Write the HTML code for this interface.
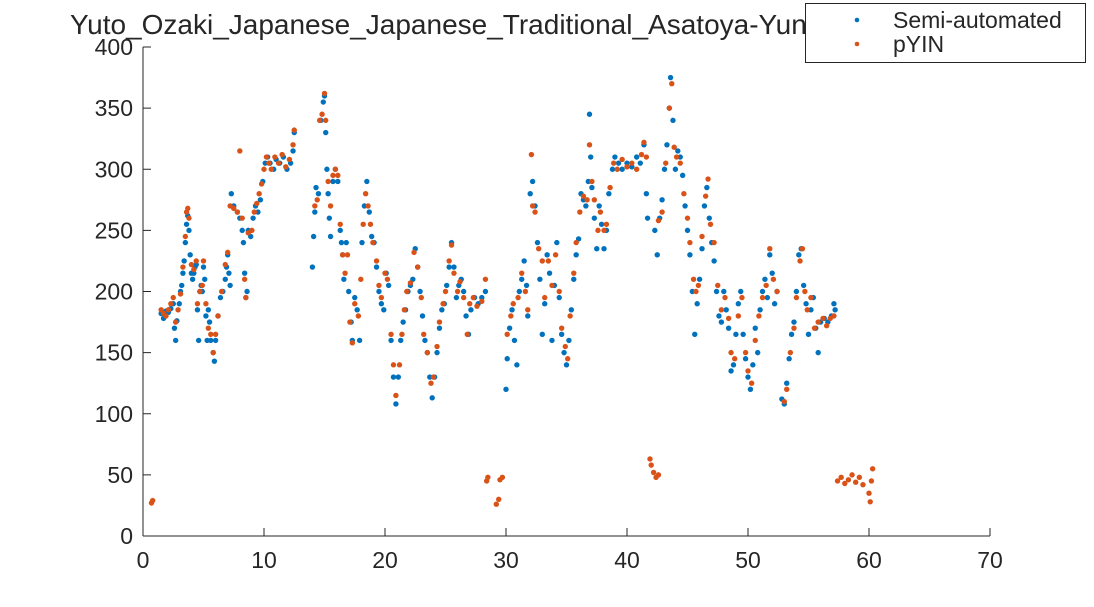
<!DOCTYPE html>
<html><head><meta charset="utf-8"><style>
html,body{margin:0;padding:0;background:#fff;}
svg text{font-family:"Liberation Sans","Noto Sans CJK JP",sans-serif;fill:#262626;}
</style></head><body>
<svg id="chart" width="1094" height="602" viewBox="0 0 1094 602" xmlns="http://www.w3.org/2000/svg">
<rect width="1094" height="602" fill="#fff"/>
<text x="70" y="34" font-size="28">Yuto_Ozaki_Japanese_Japanese_Traditional_Asatoya-Yunta_pitch</text>
<g id="axes"></g>
<g id="marks"></g>
<g>
<rect x="805.5" y="3.5" width="280" height="59" fill="#fff" stroke="#262626" stroke-width="1"/>
<circle cx="857" cy="20" r="2.3" fill="#0072BD"/>
<text x="893" y="28" font-size="23">Semi-automated</text>
<circle cx="857" cy="44" r="2.3" fill="#D95319"/>
<text x="893" y="52" font-size="23">pYIN</text>
</g>
</svg>
<script>
const xTicks=[0,10,20,30,40,50,60,70];
const yTicks=[0,50,100,150,200,250,300,350,400];
const semiT=[1.5,1.7,1.9,2.1,2.3,2.5,2.6,2.7,2.8,3.0,3.1,3.2,3.3,3.4,3.5,3.6,3.7,3.8,3.9,4.0,4.1,4.2,4.3,4.4,4.5,4.6,4.7,4.8,4.9,5.0,5.1,5.2,5.3,5.4,5.5,5.6,5.8,5.9,6.0,6.2,6.4,6.6,6.8,6.9,7.0,7.1,7.2,7.3,7.5,7.8,8.0,8.2,8.3,8.4,8.5,8.6,8.7,8.9,9.1,9.3,9.5,9.7,9.9,10.1,10.3,10.5,10.8,11.0,11.3,11.6,11.9,12.2,12.4,12.5,
14.0,14.1,14.2,14.3,14.5,14.7,14.9,15.0,15.1,15.2,15.3,15.4,15.5,15.7,15.9,16.1,16.3,16.4,16.5,16.6,16.8,17.0,17.2,17.3,17.5,17.7,17.9,18.1,18.3,18.5,18.7,18.9,19.1,19.3,19.5,19.7,19.9,20.1,20.3,20.5,20.7,20.9,21.1,21.3,21.5,21.7,21.9,22.1,22.3,22.5,22.7,22.9,23.1,23.3,23.5,23.7,23.9,24.1,24.3,24.5,24.7,24.9,25.1,25.3,25.5,25.7,25.9,26.1,26.3,26.5,26.7,26.9,27.1,27.4,27.7,28.0,28.3,
30.0,30.1,30.3,30.5,30.7,30.9,31.1,31.3,31.5,31.7,31.8,32.0,32.2,32.4,32.6,32.8,33.0,33.2,33.4,33.6,33.8,34.0,34.2,34.4,34.6,34.8,35.0,35.2,35.4,35.6,35.8,36.0,36.2,36.4,36.6,36.8,36.9,37.0,37.1,37.3,37.5,37.7,37.9,38.1,38.3,38.5,38.8,39.0,39.3,39.6,40.0,40.4,40.8,41.1,41.4,41.6,41.7,42.3,42.5,42.7,42.9,43.1,43.3,43.5,43.6,43.8,44.0,44.2,44.4,44.6,44.8,45.0,45.2,45.4,45.6,45.8,46.0,46.2,46.4,46.6,46.8,47.0,47.2,47.4,47.6,47.8,48.0,48.2,48.4,48.6,48.8,49.0,49.2,49.4,49.6,49.8,50.0,50.2,50.4,50.6,50.8,51.0,51.2,51.4,51.6,51.8,52.0,52.2,52.4,52.8,53.0,53.2,53.4,53.6,53.8,54.0,54.2,54.4,54.6,54.8,55.0,55.2,55.4,55.6,55.8,56.0,56.3,56.6,56.9,57.1,57.2];
const semiF=[182,178,184,183,186,190,170,160,176,190,200,205,215,225,240,255,262,250,230,215,210,215,220,222,185,160,200,205,200,220,210,180,160,185,175,160,150,143,160,180,195,200,210,220,230,215,205,280,270,265,260,250,240,215,195,200,250,245,260,270,265,275,290,305,310,305,300,308,305,310,300,305,315,330,
220,245,265,285,280,340,355,360,330,300,280,260,245,290,300,290,250,240,230,210,240,200,175,160,195,185,160,240,270,290,265,245,240,220,200,190,185,215,205,160,130,108,130,160,175,185,200,205,210,235,220,200,180,160,150,130,113,130,150,170,185,190,205,220,240,220,195,205,210,200,180,165,185,195,190,195,200,
120,145,170,185,160,140,200,210,225,205,180,280,290,270,240,210,165,190,230,215,160,205,240,195,165,150,140,160,185,210,230,243,280,275,270,290,345,310,285,260,235,270,255,235,250,280,300,310,305,300,305,302,310,305,320,280,260,250,230,260,275,300,320,350,375,340,300,315,310,295,270,250,230,200,165,190,210,235,270,285,260,240,225,200,180,175,200,185,170,135,140,165,190,200,165,145,130,120,140,170,150,185,200,210,195,230,215,190,200,112,108,125,145,165,175,200,230,235,205,190,165,185,195,170,150,175,178,175,180,190,185];
const pyinT=[0.7,0.8,1.5,1.7,1.9,2.1,2.3,2.5,2.7,2.9,3.1,3.3,3.5,3.6,3.7,3.8,4.0,4.2,4.4,4.5,4.7,4.9,5.0,5.2,5.4,5.6,5.8,6.0,6.2,6.5,6.8,7.0,7.2,7.5,7.8,8.0,8.2,8.4,8.5,8.7,9.0,9.2,9.4,9.6,9.8,10.0,10.2,10.4,10.6,10.9,11.2,11.5,11.8,12.1,12.4,12.5,
14.2,14.4,14.6,14.8,15.0,15.1,15.3,15.5,15.7,15.9,16.1,16.3,16.5,16.7,16.9,17.1,17.3,17.5,17.8,18.0,18.2,18.4,18.6,18.8,19.0,19.3,19.5,19.7,20.0,20.2,20.5,20.7,20.9,21.2,21.4,21.6,21.8,22.1,22.4,22.7,23.0,23.2,23.5,23.8,24.0,24.3,24.5,24.8,25.0,25.3,25.5,25.7,26.0,26.2,26.5,26.8,27.0,27.3,27.6,28.0,28.3,28.4,28.5,29.2,29.4,29.5,29.7,
30.1,30.4,30.6,31.0,31.3,31.6,31.8,32.1,32.2,32.4,32.7,33.0,33.2,33.5,33.8,34.1,34.4,34.6,34.9,35.1,35.3,35.6,35.8,36.1,36.4,36.7,36.9,37.1,37.3,37.6,37.8,38.1,38.3,38.6,38.9,39.2,39.6,40.0,40.4,40.8,41.2,41.4,41.6,41.9,42.0,42.2,42.4,42.6,42.6,42.9,43.2,43.5,43.7,43.9,44.1,44.4,44.7,45.0,45.2,45.5,45.7,45.9,46.2,46.5,46.7,46.9,47.2,47.5,47.8,48.1,48.4,48.6,48.9,49.2,49.5,49.8,50.0,50.3,50.6,50.9,51.2,51.5,51.8,52.1,52.4,53.0,53.2,53.5,53.8,54.0,54.3,54.5,54.7,54.9,55.2,55.5,55.8,56.2,56.5,56.8,57.1,57.4,57.7,58.0,58.3,58.6,58.9,59.2,59.5,60.0,60.1,60.2,60.3];
const pyinF=[27,29,185,182,180,185,190,195,175,185,198,220,245,265,268,260,222,218,225,190,200,205,225,190,170,165,150,165,180,200,222,232,270,268,265,315,260,210,195,248,250,265,272,280,288,300,310,305,300,310,305,312,302,308,320,332,
270,275,340,345,362,340,290,270,295,300,295,255,230,215,230,175,158,190,180,210,255,280,270,255,240,225,205,195,215,210,165,140,115,140,165,185,200,207,232,220,195,165,150,125,130,155,175,190,200,225,238,215,200,208,195,165,190,195,188,192,210,45,48,26,30,46,48,
165,180,190,195,215,200,185,312,270,265,235,225,195,225,205,230,200,170,155,145,180,215,240,265,278,275,320,290,275,250,265,250,255,285,305,300,308,302,305,300,312,322,310,63,58,52,48,50,258,265,305,350,370,318,310,305,280,260,240,210,200,205,245,278,292,255,240,205,185,195,178,150,145,180,195,150,135,125,160,180,195,205,235,210,200,110,120,150,170,195,225,235,200,185,195,170,175,178,172,178,180,45,48,43,46,50,44,48,42,35,28,45,55];

const X0=143,X1=990,Y0=536,Y1=47;
const xs=v=>X0+(v-0)/70*(X1-X0);
const ys=v=>Y0-(v-0)/400*(Y0-Y1);
const NS='http://www.w3.org/2000/svg';
const axes=document.getElementById('axes');
const marks=document.getElementById('marks');
function mk(tag,attrs,parent){const e=document.createElementNS(NS,tag);for(const k in attrs)e.setAttribute(k,attrs[k]);parent.appendChild(e);return e;}
const yl=mk('line',{x1:X0,y1:Y0,x2:X0,y2:Y1,stroke:'#262626','stroke-width':1},axes);


const xl=mk('line',{x1:X0,y1:Y0,x2:X1,y2:Y0,stroke:'#262626','stroke-width':1},axes);


xTicks.forEach(t=>{
  const x=xs(t);
  mk('line',{x1:x,y1:Y0,x2:x,y2:Y0-8,stroke:'#262626'},axes);
  const tx=mk('text',{x:x,y:Y0+32,'text-anchor':'middle','font-size':23},axes);
  tx.textContent=t;
  
  
});
yTicks.forEach(t=>{
  const y=ys(t);
  mk('line',{x1:X0,y1:y,x2:X0+8,y2:y,stroke:'#262626'},axes);
  const tx=mk('text',{x:X0-10,y:y+8,'text-anchor':'end','font-size':23},axes);
  tx.textContent=t;
  
  
});
function series(T,F,color,name){
  for(let i=0;i<T.length;i++){
    const c=mk('circle',{cx:xs(T[i]),cy:ys(F[i]),r:2.7,fill:color},marks);
    
    
  }
}
series(semiT,semiF,'#0072BD','semi-automated-point');
series(pyinT,pyinF,'#D95319','pyin-point');
</script>
</body></html>
